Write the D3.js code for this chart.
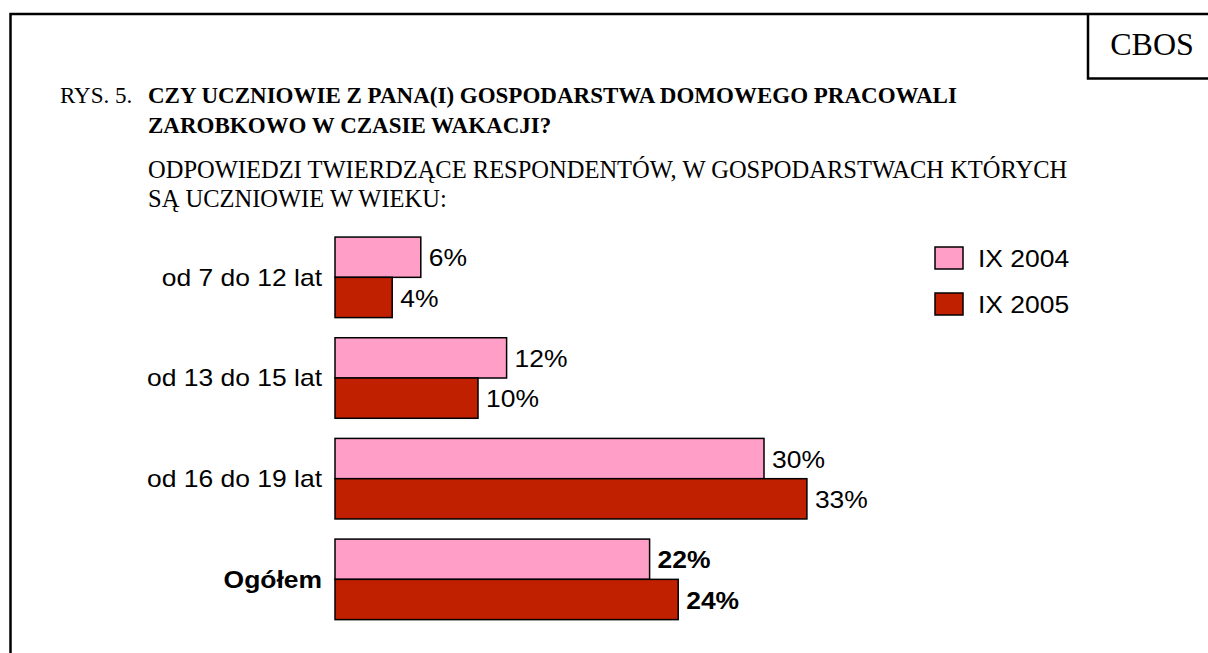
<!DOCTYPE html>
<html>
<head>
<meta charset="utf-8">
<script src="https://cdn.jsdelivr.net/npm/d3@7"></script>
<style>
  body { margin: 0; background: #fff; }
  svg { display: block; }
  .serif { font-family: "Liberation Serif", "Times New Roman", serif; }
  .sans { font-family: "Liberation Sans", Arial, sans-serif; }
</style>
</head>
<body>
<svg id="chart" width="1208" height="653"></svg>
<script>
'use strict';

// data
const categories = ["od 7 do 12 lat", "od 13 do 15 lat", "od 16 do 19 lat", "Ogółem"];
const seriesNames = ["IX 2004", "IX 2005"];
const values2004 = [6, 12, 30, 22];
const values2005 = [4, 10, 33, 24];
const seriesColors = ["#ff9fc8", "#c02000"];

const titleLines = [
	"CZY UCZNIOWIE Z PANA(I) GOSPODARSTWA DOMOWEGO PRACOWALI",
	"ZAROBKOWO W CZASIE WAKACJI?"
];
const subtitleLines = [
	"ODPOWIEDZI TWIERDZĄCE RESPONDENTÓW, W GOSPODARSTWACH KTÓRYCH",
	"SĄ UCZNIOWIE W WIEKU:"
];

const svg = d3.select("#chart");
const width = 1208;
const height = 653;
const sx = 1.15; // chart text is a bit stretched sideways

// frame
svg.append("path")
	.attr("d", `M10.5,${height} V14 H${width}`)
	.attr("fill", "none")
	.attr("stroke", "#000")
	.attr("stroke-width", 2.5);

svg.append("path")
	.attr("d", `M1088,14 V78.5 H${width}`)
	.attr("fill", "none")
	.attr("stroke", "#000")
	.attr("stroke-width", 2.5);

svg.append("text")
	.attr("class", "serif")
	.attr("x", 1152)
	.attr("y", 55)
	.attr("text-anchor", "middle")
	.attr("font-size", 32)
	.text("CBOS");

// heading
svg.append("text")
	.attr("class", "serif")
	.attr("x", 60)
	.attr("y", 103)
	.attr("font-size", 23)
	.text("RYS. 5.");

svg.selectAll("text.title")
	.data(titleLines)
	.join("text")
	.attr("class", "title serif")
	.attr("x", 148)
	.attr("y", (d, i) => 103 + i * 29.5)
	.attr("font-size", 23)
	.attr("font-weight", "bold")
	.text(d => d);

svg.selectAll("text.subtitle")
	.data(subtitleLines)
	.join("text")
	.attr("class", "subtitle serif")
	.attr("x", 148)
	.attr("y", (d, i) => 178 + i * 28.5)
	.attr("font-size", 24.5)
	.text(d => d);

// scales
const x = d3.scaleLinear()
	.domain([0, 35])
	.range([335, 335 + 35 * 14.3]);

const y = d3.scaleBand()
	.domain(categories)
	.range([227, 629.7])
	.paddingInner(0.2)
	.paddingOuter(0.1);

const ySub = d3.scaleBand()
	.domain(seriesNames)
	.range([0, y.bandwidth()]);

const rows = categories.map((c, i) => ({
	category: c,
	values: [
		{series: seriesNames[0], value: values2004[i]},
		{series: seriesNames[1], value: values2005[i]}
	]
}));

const color = d3.scaleOrdinal()
	.domain(seriesNames)
	.range(seriesColors);

const groups = svg.append("g")
	.selectAll("g")
	.data(rows)
	.join("g")
	.attr("transform", d => `translate(0,${y(d.category)})`);

groups.selectAll("rect")
	.data(d => d.values)
	.join("rect")
	.attr("x", x(0))
	.attr("y", d => ySub(d.series))
	.attr("width", d => x(d.value) - x(0))
	.attr("height", ySub.bandwidth())
	.attr("fill", d => color(d.series))
	.attr("stroke", "#000")
	.attr("stroke-width", 1.5);

groups.each(function(row) {
	const bold = row.category === "Ogółem";
	d3.select(this).selectAll("text.value")
		.data(row.values)
		.join("text")
		.attr("class", "value sans")
		.attr("transform", d => `translate(${x(d.value) + 8},${ySub(d.series) + ySub.bandwidth() / 2 + 1}) scale(${sx},1)`)
		.attr("dy", "0.35em")
		.attr("font-size", 23)
		.attr("font-weight", bold ? "bold" : "normal")
		.text(d => d.value + "%");
});

// category axis labels
const axis = d3.axisLeft(y).tickSize(0).tickPadding(0);
const axisG = svg.append("g")
	.attr("transform", "translate(322,0)")
	.call(axis);
axisG.select(".domain").remove();
axisG.selectAll(".tick text")
	.attr("class", "sans")
	.attr("font-family", null)
	.attr("fill", "#000")
	.attr("font-size", 23)
	.attr("font-weight", d => d === "Ogółem" ? "bold" : "normal")
	.attr("x", null)
	.attr("transform", `translate(0,1) scale(${sx},1)`);

// legend
const legend = svg.append("g")
	.selectAll("g")
	.data(seriesNames)
	.join("g")
	.attr("transform", (d, i) => `translate(935,${247 + i * 46})`);

legend.append("rect")
	.attr("width", 28)
	.attr("height", 22)
	.attr("fill", d => color(d))
	.attr("stroke", "#000")
	.attr("stroke-width", 1.5);

legend.append("text")
	.attr("class", "sans")
	.attr("transform", `translate(43,12) scale(${sx},1)`)
	.attr("dy", "0.35em")
	.attr("font-size", 23)
	.text(d => d);
</script>
</body>
</html>
